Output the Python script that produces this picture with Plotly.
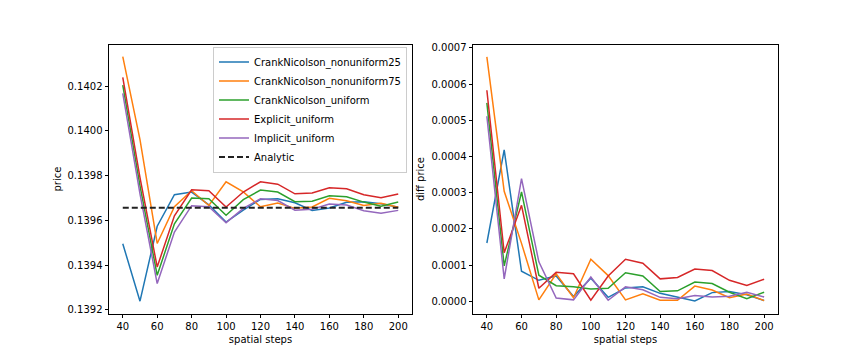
import plotly.graph_objects as go

steps = [40, 50, 60, 70, 80, 90, 100, 110, 120, 130, 140, 150, 160, 170, 180, 190, 200]
analytic = 0.139657

cn_nonuniform25 = [0.139496, 0.139239, 0.139574, 0.139715, 0.139727, 0.139670, 0.139593, 0.139646,
                   0.139694, 0.139697, 0.139679, 0.139645, 0.139656, 0.139681, 0.139684, 0.139675, 0.139659]
cn_nonuniform75 = [0.140332, 0.139961, 0.139497, 0.139661, 0.139733, 0.139667, 0.139773, 0.139728,
                   0.139661, 0.139678, 0.139654, 0.139660, 0.139699, 0.139688, 0.139667, 0.139677, 0.139659]
cn_uniform = [0.140205, 0.139755, 0.139355, 0.139585, 0.139700, 0.139697, 0.139623, 0.139693,
              0.139736, 0.139727, 0.139684, 0.139686, 0.139710, 0.139706, 0.139682, 0.139664, 0.139682]
explicit_uniform = [0.140240, 0.139791, 0.139392, 0.139621, 0.139737, 0.139733, 0.139660, 0.139727,
                    0.139773, 0.139762, 0.139719, 0.139723, 0.139746, 0.139742, 0.139715, 0.139701, 0.139718]
implicit_uniform = [0.140168, 0.139719, 0.139318, 0.139548, 0.139666, 0.139661, 0.139590, 0.139654,
                    0.139697, 0.139689, 0.139646, 0.139650, 0.139673, 0.139669, 0.139643, 0.139632, 0.139645]

series = [
    ("CrankNicolson_nonuniform25", cn_nonuniform25, "#1f77b4"),
    ("CrankNicolson_nonuniform75", cn_nonuniform75, "#ff7f0e"),
    ("CrankNicolson_uniform", cn_uniform, "#2ca02c"),
    ("Explicit_uniform", explicit_uniform, "#d62728"),
    ("Implicit_uniform", implicit_uniform, "#9467bd"),
]

FONT = "DejaVu Sans"
W, H = 856, 352  # page body has an 8px margin
OFF = 8

def fx(px):
    return (px - OFF) / W

def fy(py):
    return 1 - (py - OFF) / H

fig = go.Figure()

for name, vals, color in series:
    fig.add_trace(go.Scatter(x=steps, y=vals, mode="lines", name=name,
                             line=dict(color=color, width=1.5), xaxis="x", yaxis="y"))
fig.add_trace(go.Scatter(x=steps, y=[analytic] * len(steps), mode="lines", name="Analytic",
                         line=dict(color="#222222", width=2, dash="6px,3px"), xaxis="x", yaxis="y"))

for name, vals, color in series:
    diff = [abs(v - analytic) for v in vals]
    fig.add_trace(go.Scatter(x=steps, y=diff, mode="lines", name=name, showlegend=False,
                             line=dict(color=color, width=1.5), xaxis="x2", yaxis="y2"))

axis_common = dict(showline=True, linecolor="black", linewidth=1, mirror=True,
                   ticks="outside", ticklen=3.5, tickcolor="black", showgrid=False, zeroline=False,
                   tickfont=dict(family=FONT, size=10, color="black"))

fig.update_layout(
    width=W, height=H,
    margin=dict(l=0, r=0, t=0, b=0),
    paper_bgcolor="white", plot_bgcolor="white",
    font=dict(family=FONT, size=10, color="black"),
    xaxis=dict(domain=[fx(109), fx(412)], range=[32, 208], tickvals=[40, 60, 80, 100, 120, 140, 160, 180, 200],
               title=dict(text="spatial steps", standoff=4, font=dict(family=FONT, size=10)), anchor="y", **axis_common),
    yaxis=dict(domain=[fy(315), fy(43)], range=[0.139184, 0.140386],
               tickvals=[0.1392, 0.1394, 0.1396, 0.1398, 0.1400, 0.1402], tickformat=".4f",
               title=dict(text="price", standoff=3, font=dict(family=FONT, size=10)), anchor="x", **axis_common),
    xaxis2=dict(domain=[fx(473), fx(778)], range=[32, 208], tickvals=[40, 60, 80, 100, 120, 140, 160, 180, 200],
                title=dict(text="spatial steps", standoff=4, font=dict(family=FONT, size=10)), anchor="y2", **axis_common),
    yaxis2=dict(domain=[fy(315), fy(43)], range=[-0.0000337, 0.000709],
                tickvals=[0, 0.0001, 0.0002, 0.0003, 0.0004, 0.0005, 0.0006, 0.0007], tickformat=".4f",
                title=dict(text="diff price", standoff=4, font=dict(family=FONT, size=10)), anchor="x2", **axis_common),
    legend=dict(x=fx(407), y=fy(45), xanchor="right", yanchor="top",
                bgcolor="rgba(255,255,255,0.8)", bordercolor="#cccccc", borderwidth=1,
                font=dict(family=FONT, size=10, color="black"), tracegroupgap=0),
    showlegend=True,
)

fig.write_html("out.html")
